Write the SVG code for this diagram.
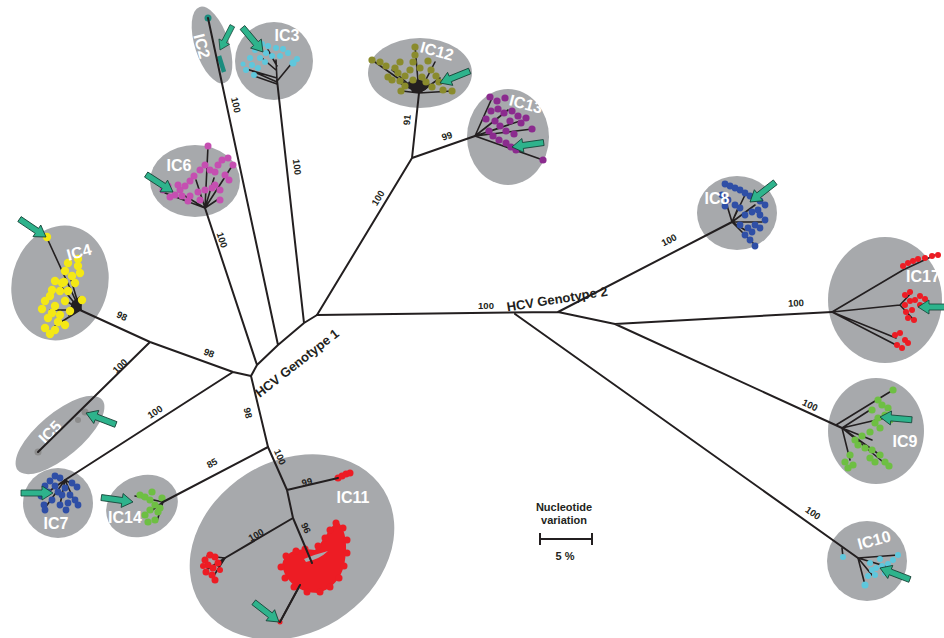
<svg xmlns="http://www.w3.org/2000/svg" xmlns:xlink="http://www.w3.org/1999/xlink" width="944" height="638" viewBox="0 0 944 638">
<defs>
<style>
.halo{fill:#a7a9ac}
.br{fill:none;stroke:#231f20;stroke-width:2;stroke-linecap:round;stroke-linejoin:round}
.in{fill:none;stroke:#231f20;stroke-width:1.6;stroke-linecap:round}
.bs{font-family:"Liberation Sans",Arial,sans-serif;font-weight:bold;font-size:9.5px;fill:#231f20;text-anchor:middle}
.lab{font-family:"Liberation Sans",Arial,sans-serif;font-weight:bold;font-size:16px;fill:#ffffff;text-anchor:middle}
.gt{font-family:"Liberation Sans",Arial,sans-serif;font-weight:bold;font-size:13px;fill:#231f20;text-anchor:middle}
.sc{font-family:"Liberation Sans",Arial,sans-serif;font-weight:bold;font-size:11px;fill:#231f20;text-anchor:middle}
.teal circle{fill:#1b8c7e}
.lb circle{fill:#5fc7dc}
.ol circle{fill:#8a8b2c;r:3.6px}
.pu circle{fill:#8b2b8e;r:3.6px}
.pk circle{fill:#c54fb1;r:3.5px}
.ye circle{fill:#f4e815;r:4.2px}
.gy circle{fill:#8c8c8c}
.bl circle{fill:#2f4fa6;r:3.4px}
.gr circle{fill:#6ebf43;r:3.6px}
.rd circle{fill:#ed1c24}
</style>
<path id="arr" d="M0,0 L-11,-7 L-11,-3 L-32,-3 L-32,3 L-11,3 L-11,7 Z" fill="#2eb38c" stroke="#123f33" stroke-width="0.8"/>
</defs>
<rect width="944" height="638" fill="#ffffff"/>

<!-- IC2 -->
<g id="IC2">
<ellipse class="halo" cx="212" cy="45" rx="17" ry="40" transform="rotate(-18 212 45)"/>
<g class="teal"><circle cx="208" cy="18" r="3.5"/></g>
<path d="M219,56 L224,72" stroke="#1b8c7e" stroke-width="4.5" fill="none"/>
<text class="lab" transform="translate(202,46) rotate(75)" dy="0.35em">IC2</text>
<use href="#arr" transform="translate(220,50) rotate(117) scale(0.85)"/>
</g>

<!-- IC3 -->
<g id="IC3">
<circle class="halo" cx="274" cy="61" r="39"/>
<path class="in" d="M277,80 L276,60 M277,82 L252,71 M277,78 L246,69 M278,80 L292,63 M277,84 L254,76 M276,70 L262,58 M277,66 L268,50"/>
<g class="lb">
<circle cx="262" cy="44" r="3"/><circle cx="268" cy="46" r="3"/><circle cx="276" cy="48" r="3"/><circle cx="283" cy="49" r="3"/><circle cx="255" cy="50" r="3"/><circle cx="266" cy="53" r="3"/><circle cx="288" cy="53" r="3"/><circle cx="250" cy="58" r="3"/><circle cx="260" cy="58" r="3"/><circle cx="272" cy="56" r="3"/><circle cx="280" cy="56" r="3"/><circle cx="252" cy="65" r="3"/><circle cx="258" cy="68" r="3"/><circle cx="246" cy="70" r="3"/><circle cx="265" cy="62" r="3"/><circle cx="293" cy="63" r="3.5"/><circle cx="297" cy="59" r="3"/><circle cx="254" cy="75" r="3"/><circle cx="243" cy="64" r="2.5"/>
</g>
<text class="lab" x="287" y="35" dy="0.35em">IC3</text>
<use href="#arr" transform="translate(263,52) rotate(50)"/>
</g>

<!-- IC12 -->
<g id="IC12">
<ellipse class="halo" cx="420" cy="73" rx="52" ry="35"/>
<path class="in" d="M419,93 L372,60 M419,93 L402,91 M419,93 L452,91 M419,93 L415,46 M419,93 L392,70 M419,93 L435,62 M419,93 L440,78 M419,93 L398,82"/>
<path d="M408,82 Q418,76 430,84 Q425,95 412,92 Z" fill="#231f20"/>
<g class="ol">
<circle cx="372" cy="60" r="3.5"/><circle cx="380" cy="62" r="3"/><circle cx="386" cy="66" r="3"/><circle cx="395" cy="68" r="3"/><circle cx="400" cy="62" r="3"/><circle cx="398" cy="73" r="3"/><circle cx="405" cy="76" r="3"/><circle cx="410" cy="70" r="3"/><circle cx="413" cy="62" r="3"/><circle cx="415" cy="55" r="3"/><circle cx="415" cy="47" r="3"/><circle cx="420" cy="68" r="3"/><circle cx="428" cy="61" r="3"/><circle cx="431" cy="70" r="3"/><circle cx="436" cy="76" r="3"/><circle cx="439" cy="82" r="3"/><circle cx="432" cy="87" r="3"/><circle cx="426" cy="82" r="3"/><circle cx="405" cy="86" r="3"/><circle cx="400" cy="81" r="3"/><circle cx="392" cy="80" r="3"/><circle cx="388" cy="77" r="3"/><circle cx="443" cy="90" r="3"/><circle cx="452" cy="91" r="3.5"/><circle cx="401" cy="91" r="3.5"/><circle cx="422" cy="77" r="3"/><circle cx="413" cy="80" r="3"/>
</g>
<text class="lab" transform="translate(437,51) rotate(15)" dy="0.35em">IC12</text>
<use href="#arr" transform="translate(440,83) rotate(158)"/>
</g>

<!-- IC13 -->
<g id="IC13">
<ellipse class="halo" cx="508" cy="137" rx="41" ry="48"/>
<path class="in" d="M475,136 L543,160 M475,136 L532,129 M475,136 L492,98 M475,136 L508,110 M475,136 L520,121 M475,136 L500,128"/>
<g class="pu">
<circle cx="490" cy="97" r="3.5"/><circle cx="497" cy="101" r="3"/><circle cx="505" cy="98" r="3"/><circle cx="498" cy="109" r="3"/><circle cx="504" cy="113" r="3"/><circle cx="512" cy="111" r="3"/><circle cx="518" cy="116" r="3"/><circle cx="510" cy="121" r="3"/><circle cx="521" cy="123" r="3"/><circle cx="526" cy="118" r="3"/><circle cx="532" cy="129" r="3.5"/><circle cx="495" cy="121" r="3"/><circle cx="500" cy="126" r="3"/><circle cx="506" cy="131" r="3"/><circle cx="489" cy="131" r="3"/><circle cx="493" cy="136" r="3"/><circle cx="499" cy="140" r="3"/><circle cx="506" cy="143" r="3"/><circle cx="511" cy="147" r="3"/><circle cx="516" cy="150" r="3"/><circle cx="543" cy="160" r="3.5"/><circle cx="486" cy="119" r="3"/><circle cx="491" cy="111" r="3"/><circle cx="514" cy="134" r="3"/>
</g>
<text class="lab" transform="translate(526,104) rotate(15)" dy="0.35em">IC13</text>
<use href="#arr" transform="translate(512,147) rotate(172)"/>
</g>

<!-- IC6 -->
<g id="IC6">
<ellipse class="halo" cx="195" cy="181" rx="45" ry="36"/>
<path class="in" d="M205,208 L208,146 M205,208 L165,193 M205,208 L232,166 M205,208 L220,198 M205,208 L185,196 M205,208 L214,178 M205,208 L196,180"/>
<g class="pk">
<circle cx="208" cy="146" r="3.5"/><circle cx="200" cy="170" r="3"/><circle cx="194" cy="176" r="3"/><circle cx="205" cy="165" r="3"/><circle cx="210" cy="170" r="3"/><circle cx="215" cy="172" r="3"/><circle cx="218" cy="165" r="3"/><circle cx="222" cy="160" r="3"/><circle cx="228" cy="158" r="3"/><circle cx="233" cy="165" r="3"/><circle cx="225" cy="175" r="3"/><circle cx="229" cy="180" r="3"/><circle cx="215" cy="185" r="3"/><circle cx="190" cy="181" r="3"/><circle cx="185" cy="186" r="3"/><circle cx="180" cy="190" r="3"/><circle cx="175" cy="195" r="3"/><circle cx="168" cy="186" r="3"/><circle cx="163" cy="190" r="3"/><circle cx="182" cy="196" r="3"/><circle cx="190" cy="196" r="3"/><circle cx="198" cy="192" r="3"/><circle cx="205" cy="190" r="3"/><circle cx="212" cy="188" r="3"/><circle cx="220" cy="190" r="3"/><circle cx="220" cy="200" r="3"/><circle cx="200" cy="200" r="3"/><circle cx="170" cy="197" r="3"/><circle cx="188" cy="201" r="3"/><circle cx="178" cy="185" r="3"/>
</g>
<text class="lab" x="179" y="165" dy="0.35em">IC6</text>
<use href="#arr" transform="translate(173,192) rotate(33)"/>
</g>

<!-- IC4 -->
<g id="IC4">
<ellipse class="halo" cx="60" cy="283" rx="48" ry="58" transform="rotate(15 60 283)"/>
<path class="in" d="M80,310 L47,238 M80,310 L82,300 M80,310 L60,285 M80,310 L50,310 M80,310 L55,326 M80,310 L70,276 M80,310 L65,300"/>
<path d="M72,302 L80,296 L82,310 L68,316 Z" fill="#231f20"/>
<g class="ye">
<circle cx="47" cy="237" r="3.5"/><circle cx="65" cy="271" r="3.5"/><circle cx="72" cy="276" r="3.5"/><circle cx="78" cy="266" r="3.5"/><circle cx="80" cy="273" r="3.5"/><circle cx="75" cy="283" r="3.5"/><circle cx="62" cy="283" r="3.5"/><circle cx="55" cy="281" r="3.5"/><circle cx="60" cy="291" r="3.5"/><circle cx="68" cy="291" r="3.5"/><circle cx="50" cy="296" r="3.5"/><circle cx="45" cy="301" r="3.5"/><circle cx="55" cy="306" r="3.5"/><circle cx="65" cy="301" r="3.5"/><circle cx="70" cy="311" r="3.5"/><circle cx="48" cy="318" r="3.5"/><circle cx="42" cy="309" r="3.5"/><circle cx="52" cy="313" r="3.5"/><circle cx="58" cy="322" r="3.5"/><circle cx="65" cy="325" r="3.5"/><circle cx="55" cy="330" r="3.5"/><circle cx="50" cy="334" r="3.5"/><circle cx="45" cy="328" r="3.5"/><circle cx="60" cy="315" r="3.5"/><circle cx="78" cy="259" r="3.5"/><circle cx="82" cy="300" r="3"/><circle cx="68" cy="263" r="3.5"/><circle cx="52" cy="290" r="3.5"/><circle cx="64" cy="282" r="3.5"/>
</g>
<text class="lab" transform="translate(79,252) rotate(-15)" dy="0.35em">IC4</text>
<use href="#arr" transform="translate(46,237) rotate(34)"/>
</g>

<!-- IC5 -->
<g id="IC5">
<ellipse class="halo" cx="60" cy="435" rx="55" ry="22" transform="rotate(-40 60 435)"/>
<g class="gy"><circle cx="38" cy="452" r="3.5"/><circle cx="78" cy="420" r="3"/><circle cx="85" cy="412" r="3.5"/></g>
<text class="lab" transform="translate(50,432) rotate(-45)" dy="0.35em">IC5</text>
<use href="#arr" transform="translate(86,413) rotate(201)"/>
</g>

<!-- IC7 -->
<g id="IC7">
<circle class="halo" cx="58" cy="503" r="35"/>
<path class="in" d="M65,480 L77,487 M65,480 L48,492 M65,480 L60,505 M65,480 L74,500 M65,480 L45,508"/>
<g class="bl">
<circle cx="55" cy="476" r="3"/><circle cx="60" cy="478" r="3"/><circle cx="50" cy="481" r="3"/><circle cx="45" cy="486" r="3"/><circle cx="55" cy="486" r="3"/><circle cx="65" cy="488" r="3"/><circle cx="58" cy="492" r="3"/><circle cx="48" cy="492" r="3"/><circle cx="41" cy="496" r="3"/><circle cx="62" cy="495" r="3"/><circle cx="70" cy="495" r="3"/><circle cx="75" cy="500" r="3"/><circle cx="68" cy="503" r="3"/><circle cx="78" cy="505" r="3"/><circle cx="52" cy="500" r="3"/><circle cx="44" cy="505" r="3"/><circle cx="60" cy="505" r="3"/><circle cx="66" cy="510" r="3"/><circle cx="45" cy="510" r="3"/><circle cx="72" cy="483" r="3"/><circle cx="77" cy="487" r="3"/>
</g>
<text class="lab" x="56" y="523" dy="0.35em">IC7</text>
<use href="#arr" transform="translate(53,493) rotate(0)"/>
</g>

<!-- IC14 -->
<g id="IC14">
<ellipse class="halo" cx="142" cy="506" rx="37" ry="30" transform="rotate(-25 142 506)"/>
<path class="in" d="M163,502 L135,496 M163,502 L150,512 M163,502 L157,521"/>
<g class="gr">
<circle cx="140" cy="495" r="3"/><circle cx="145" cy="497" r="3"/><circle cx="150" cy="500" r="3"/><circle cx="155" cy="505" r="3"/><circle cx="160" cy="508" r="3"/><circle cx="150" cy="510" r="3"/><circle cx="145" cy="515" r="3"/><circle cx="158" cy="512" r="3"/><circle cx="155" cy="520" r="3"/><circle cx="148" cy="522" r="3"/><circle cx="162" cy="498" r="3"/><circle cx="152" cy="492" r="3"/>
</g>
<text class="lab" x="125" y="517" dy="0.35em">IC14</text>
<use href="#arr" transform="translate(133,502) rotate(8)"/>
</g>

<!-- IC11 -->
<g id="IC11">
<ellipse class="halo" cx="292" cy="547" rx="108" ry="86" transform="rotate(-32 292 547)"/>
<path class="in" d="M225,558 L207,556 M225,558 L206,570 M225,558 L213,577 M225,558 L218,566 M300,585 L280,622"/>
<path d="M282,565 C285,550 300,548 315,550 C325,540 330,525 338,522 C345,528 348,545 345,560 C343,575 335,588 318,593 C300,593 285,582 282,565 Z" fill="#ed1c24"/>
<g class="rd">
<circle cx="338" cy="478" r="3.5"/><circle cx="342" cy="476" r="3.5"/><circle cx="346" cy="474" r="3.5"/><circle cx="350" cy="473" r="3.5"/>
<circle cx="205" cy="560" r="3.5"/><circle cx="210" cy="555" r="3.5"/><circle cx="215" cy="557" r="3.5"/><circle cx="208" cy="565" r="3.5"/><circle cx="213" cy="568" r="3.5"/><circle cx="218" cy="563" r="3.5"/><circle cx="212" cy="575" r="3.5"/><circle cx="206" cy="572" r="3.5"/><circle cx="220" cy="570" r="3"/><circle cx="215" cy="580" r="3.5"/><circle cx="203" cy="566" r="3"/>
<circle cx="281" cy="567" r="3.5"/><circle cx="286" cy="556" r="3.5"/><circle cx="296" cy="551" r="3.5"/><circle cx="305" cy="549" r="3.5"/><circle cx="318" cy="546" r="3.5"/><circle cx="325" cy="538" r="3.5"/><circle cx="330" cy="530" r="3.5"/><circle cx="336" cy="523" r="3.5"/><circle cx="343" cy="528" r="3.5"/><circle cx="347" cy="540" r="3.5"/><circle cx="347" cy="553" r="3.5"/><circle cx="344" cy="566" r="3.5"/><circle cx="339" cy="578" r="3.5"/><circle cx="330" cy="587" r="3.5"/><circle cx="320" cy="592" r="3.5"/><circle cx="307" cy="592" r="3.5"/><circle cx="294" cy="587" r="3.5"/><circle cx="285" cy="578" r="3.5"/><circle cx="310" cy="559" r="3.5"/><circle cx="280" cy="622" r="2.5"/>
</g>
<path d="M304,559 Q316,554 328,551 Q320,559 306,562 Z" fill="#a7a9ac"/>
<text class="lab" x="353" y="497" dy="0.35em" font-size="18">IC11</text>
<use href="#arr" transform="translate(279,622) rotate(38)"/>
</g>

<!-- IC8 -->
<g id="IC8">
<ellipse class="halo" cx="737" cy="213" rx="40" ry="37"/>
<path class="in" d="M732,222 L745,195 M732,222 L755,205 M732,222 L745,230 M732,222 L755,245 M732,222 L738,208 M732,222 L762,222 M732,222 L726,202"/>
<g class="bl">
<circle cx="725" cy="184" r="2.8"/><circle cx="730" cy="186" r="2.8"/><circle cx="735" cy="188" r="2.8"/><circle cx="740" cy="190" r="2.8"/><circle cx="745" cy="193" r="2.8"/><circle cx="750" cy="196" r="2.8"/><circle cx="755" cy="198" r="2.8"/><circle cx="760" cy="201" r="2.8"/><circle cx="765" cy="205" r="2.8"/><circle cx="758" cy="210" r="2.8"/><circle cx="752" cy="212" r="2.8"/><circle cx="745" cy="215" r="2.8"/><circle cx="740" cy="208" r="2.8"/><circle cx="735" cy="205" r="2.8"/><circle cx="728" cy="200" r="2.8"/><circle cx="725" cy="206" r="2.8"/><circle cx="760" cy="215" r="2.8"/><circle cx="765" cy="220" r="2.8"/><circle cx="755" cy="225" r="2.8"/><circle cx="748" cy="228" r="2.8"/><circle cx="745" cy="235" r="2.8"/><circle cx="750" cy="240" r="2.8"/><circle cx="755" cy="246" r="2.8"/><circle cx="752" cy="232" r="2.8"/><circle cx="740" cy="225" r="2.8"/><circle cx="760" cy="228" r="2.8"/><circle cx="722" cy="195" r="2.8"/>
</g>
<text class="lab" x="717" y="198" dy="0.35em">IC8</text>
<use href="#arr" transform="translate(750,202) rotate(142)"/>
</g>

<!-- IC17 -->
<g id="IC17">
<ellipse class="halo" cx="885" cy="300" rx="57" ry="63"/>
<path class="in" d="M832,312 L903,270 M832,312 L900,305 M832,312 L896,338 M832,312 L898,346 M903,270 L935,255 M900,305 L912,292 M900,305 L912,318"/>
<g class="rd">
<circle cx="903" cy="266" r="3"/><circle cx="908" cy="263" r="3"/><circle cx="913" cy="261" r="3"/><circle cx="918" cy="259" r="3"/><circle cx="925" cy="258" r="3"/><circle cx="932" cy="256" r="3"/><circle cx="938" cy="255" r="3"/>
<circle cx="905" cy="295" r="3"/><circle cx="910" cy="292" r="3"/><circle cx="915" cy="300" r="3"/><circle cx="920" cy="305" r="3"/><circle cx="912" cy="310" r="3"/><circle cx="908" cy="318" r="3"/><circle cx="914" cy="320" r="3"/><circle cx="920" cy="296" r="3"/><circle cx="925" cy="299" r="3"/><circle cx="905" cy="305" r="3"/><circle cx="910" cy="301" r="3"/><circle cx="906" cy="312" r="3"/>
<circle cx="895" cy="335" r="3"/><circle cx="900" cy="333" r="3"/><circle cx="905" cy="340" r="3"/><circle cx="902" cy="348" r="3"/><circle cx="908" cy="343" r="3"/><circle cx="897" cy="345" r="3"/>
</g>
<text class="lab" x="923" y="276" dy="0.35em" font-size="15">IC17</text>
<use href="#arr" transform="translate(918,307) rotate(180)"/>
</g>

<!-- IC9 -->
<g id="IC9">
<ellipse class="halo" cx="876" cy="431" rx="48" ry="53"/>
<path class="in" d="M836,425 L893,390 M842,428 L870,410 M842,428 L885,418 M842,428 L850,460 M842,428 L880,455 M842,428 L872,440 M842,428 L888,466"/>
<g class="gr">
<circle cx="893" cy="390" r="3"/><circle cx="878" cy="400" r="3"/><circle cx="882" cy="405" r="3"/><circle cx="888" cy="408" r="3"/><circle cx="885" cy="415" r="3"/><circle cx="878" cy="418" r="3"/><circle cx="875" cy="423" r="3"/><circle cx="890" cy="420" r="3"/><circle cx="880" cy="428" r="3"/><circle cx="870" cy="432" r="3"/><circle cx="862" cy="436" r="3"/><circle cx="855" cy="440" r="3"/><circle cx="858" cy="445" r="3"/><circle cx="865" cy="448" r="3"/><circle cx="872" cy="450" r="3"/><circle cx="880" cy="455" r="3"/><circle cx="885" cy="462" r="3"/><circle cx="889" cy="466" r="3"/><circle cx="875" cy="462" r="3"/><circle cx="870" cy="458" r="3"/><circle cx="850" cy="455" r="3"/><circle cx="845" cy="462" r="3"/><circle cx="848" cy="468" r="3"/><circle cx="853" cy="465" r="3"/><circle cx="872" cy="410" r="3"/>
</g>
<text class="lab" x="905" y="441" dy="0.35em">IC9</text>
<use href="#arr" transform="translate(880,417) rotate(185)"/>
</g>

<!-- IC10 -->
<g id="IC10">
<circle class="halo" cx="867" cy="561" r="40"/>
<path class="in" d="M842,548 L843,557 M858,558 L865,585 M858,558 L898,555 M858,558 L885,566 M858,558 L872,575"/>
<g class="lb">
<circle cx="843" cy="557" r="3"/><circle cx="865" cy="585" r="3.5"/><circle cx="868" cy="576" r="3"/><circle cx="872" cy="570" r="3"/><circle cx="876" cy="568" r="3"/><circle cx="882" cy="566" r="3"/><circle cx="888" cy="564" r="3"/><circle cx="893" cy="560" r="3"/><circle cx="898" cy="555" r="3"/><circle cx="880" cy="559" r="3"/><circle cx="870" cy="563" r="3"/><circle cx="875" cy="575" r="3"/><circle cx="885" cy="573" r="3"/>
</g>
<text class="lab" transform="translate(874,540) rotate(-15)" dy="0.35em">IC10</text>
<use href="#arr" transform="translate(880,568) rotate(201)"/>
</g>

<!-- connectors: tree branches -->
<g id="connectors">
<path class="br" d="M317,315 L558,312 M558,312 L732,222 M558,312 L615,324 L832,312 M615,324 L842,428 M515,314 L858,558"/>
<path class="br" d="M317,315 L304,323 L278,345 L257,365 L251,376 M304,323 L277,80 M278,345 L208,18 M257,365 L205,208"/>
<path class="br" d="M317,315 L412,158 L419,93 M412,158 L475,136"/>
<path class="br" d="M251,376 L233,372 L150,342 L80,310 M150,342 L38,452 M233,372 L65,480"/>
<path class="br" d="M251,376 L268,447 L287,490 L293,518 L312,563 M268,447 L163,502 M287,490 L338,478 M293,518 L225,558 M300,585 L280,622"/>
<text class="bs" transform="translate(236,105) rotate(78)" dy="0.35em">100</text>
<text class="bs" transform="translate(297,167) rotate(83)" dy="0.35em">100</text>
<text class="bs" transform="translate(222,240) rotate(72)" dy="0.35em">100</text>
<text class="bs" transform="translate(378,198) rotate(-59)" dy="0.35em">100</text>
<text class="bs" transform="translate(407,120) rotate(-84)" dy="0.35em">91</text>
<text class="bs" transform="translate(447,136) rotate(-19)" dy="0.35em">99</text>
<text class="bs" transform="translate(122,316) rotate(25)" dy="0.35em">98</text>
<text class="bs" transform="translate(209,353) rotate(21)" dy="0.35em">98</text>
<text class="bs" transform="translate(120,366) rotate(-44)" dy="0.35em">100</text>
<text class="bs" transform="translate(155,412) rotate(-33)" dy="0.35em">100</text>
<text class="bs" transform="translate(248,413) rotate(77)" dy="0.35em">98</text>
<text class="bs" transform="translate(212,463) rotate(-28)" dy="0.35em">85</text>
<text class="bs" transform="translate(280,457) rotate(66)" dy="0.35em">100</text>
<text class="bs" transform="translate(307,482) rotate(-13)" dy="0.35em">99</text>
<text class="bs" transform="translate(256,535) rotate(-30)" dy="0.35em">100</text>
<text class="bs" transform="translate(306,528) rotate(67)" dy="0.35em">96</text>
<text class="bs" x="486" y="306" dy="0.35em">100</text>
<text class="bs" transform="translate(669,240) rotate(-27)" dy="0.35em">100</text>
<text class="bs" transform="translate(796,303) rotate(-3)" dy="0.35em">100</text>
<text class="bs" transform="translate(810,405) rotate(25)" dy="0.35em">100</text>
<text class="bs" transform="translate(813,513) rotate(35)" dy="0.35em">100</text>
<text class="gt" transform="translate(297,363) rotate(-38)" dy="0.35em">HCV Genotype 1</text>
<text class="gt" transform="translate(557,299) rotate(-9)" dy="0.35em">HCV Genotype 2</text>
</g>

<!-- scale bar -->
<g id="scale">
<text class="sc" x="564" y="507" dy="0.35em">Nucleotide</text>
<text class="sc" x="564" y="520" dy="0.35em">variation</text>
<path d="M540,539 L592,539 M540,533 L540,545 M592,533 L592,545" stroke="#231f20" stroke-width="2" fill="none"/>
<text class="sc" x="565" y="556" dy="0.35em">5 %</text>
</g>
</svg>
